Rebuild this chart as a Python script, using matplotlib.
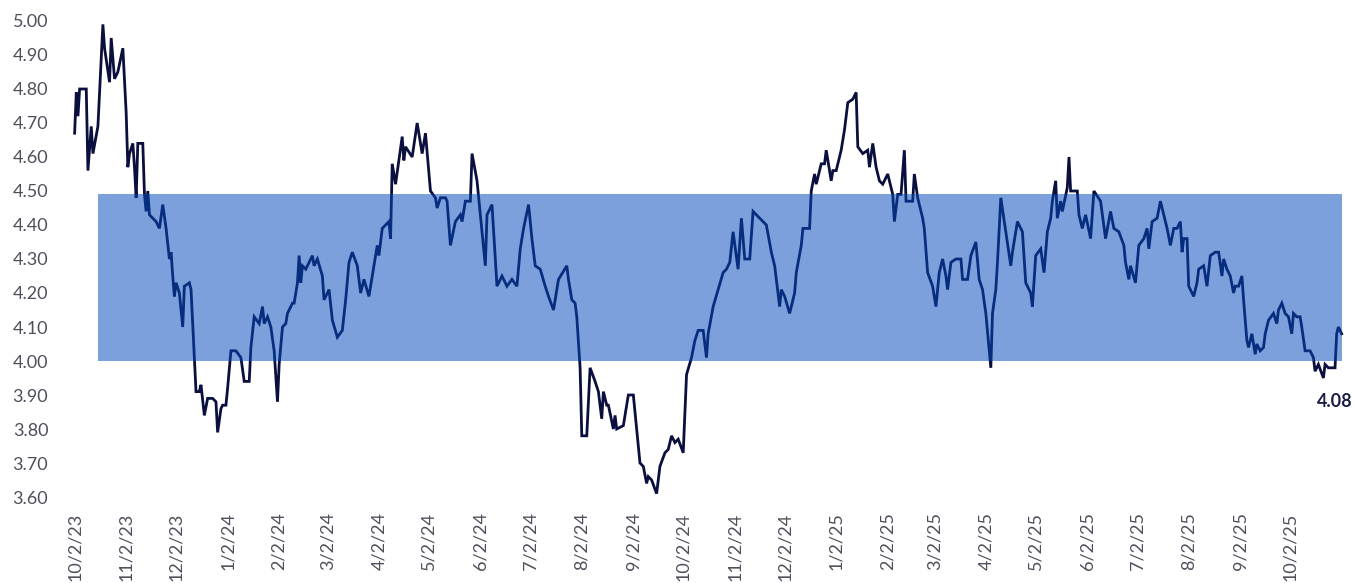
import numpy as np
import pandas as pd
import matplotlib
matplotlib.use("Agg")
import matplotlib.pyplot as plt

plt.rcParams['font.family'] = ['Lato', 'DejaVu Sans']

# calendar days after 10/2/23, and the yield
start_date = "2023-10-02"
days = [0, 1, 2, 3, 7, 8, 10, 11, 14, 17,
        18, 21, 22, 24, 26, 29, 31, 32, 33, 35,
        36, 37, 38, 41, 42, 43, 44, 45, 49, 51,
        53, 55, 57, 58, 59, 60, 61, 63, 65, 66,
        69, 70, 73, 75, 76, 78, 80, 83, 85, 86,
        88, 89, 91, 92, 94, 97, 100, 102, 105, 106,
        108, 111, 113, 114, 116, 118, 120, 122, 123, 125,
        127, 128, 131, 132, 134, 135, 136, 137, 139, 143,
        144, 146, 149, 150, 153, 155, 158, 161, 163, 165,
        167, 170, 172, 174, 177, 182, 183, 185, 189, 190,
        191, 193, 197, 198, 199, 203, 206, 209, 211, 214,
        217, 218, 220, 223, 224, 226, 229, 232, 233, 235,
        238, 239, 242, 247, 248, 251, 254, 257, 260, 263,
        266, 268, 270, 273, 275, 277, 280, 283, 285, 288,
        291, 296, 297, 299, 301, 302, 304, 305, 308, 310,
        313, 315, 317, 318, 320, 321, 324, 325, 326, 330,
        333, 336, 340, 342, 344, 345, 347, 350, 352, 355,
        357, 359, 361, 363, 366, 368, 371, 373, 375, 378,
        380, 381, 384, 387, 390, 392, 394, 396, 399, 401,
        403, 406, 408, 412, 416, 419, 421, 422, 424, 425,
        427, 430, 433, 434, 437, 438, 442, 443, 445, 446,
        449, 451, 452, 455, 456, 458, 461, 463, 465, 468,
        470, 471, 474, 477, 478, 480, 482, 484, 486, 489,
        492, 493, 495, 497, 499, 500, 504, 505, 507, 510,
        511, 513, 516, 517, 518, 520, 522, 524, 525, 527,
        530, 533, 534, 537, 539, 542, 544, 546, 548, 551,
        552, 554, 555, 557, 560, 563, 564, 567, 570, 572,
        575, 576, 578, 581, 583, 585, 587, 588, 590, 591,
        593, 594, 597, 598, 599, 603, 604, 606, 608, 611,
        613, 617, 620, 623, 625, 628, 631, 632, 634, 635,
        638, 640, 643, 645, 646, 648, 651, 653, 655, 657,
        659, 661, 663, 665, 666, 667, 669, 670, 673, 675,
        676, 679, 681, 683, 686, 688, 690, 691, 693, 695,
        697, 698, 700, 702, 703, 705, 706, 708, 710, 711,
        713, 715, 716, 718, 721, 723, 724, 726, 728, 730,
        732, 733, 735, 737, 738, 740, 743, 745, 746, 748,
        751, 752, 754, 758, 759, 760, 762]
yields = [4.67, 4.79, 4.72, 4.80, 4.80, 4.56, 4.69, 4.61, 4.69, 4.99,
          4.92, 4.82, 4.95, 4.83, 4.85, 4.92, 4.73, 4.57, 4.61, 4.64,
          4.57, 4.48, 4.64, 4.64, 4.49, 4.44, 4.50, 4.43, 4.41, 4.39,
          4.46, 4.39, 4.30, 4.32, 4.25, 4.19, 4.23, 4.20, 4.10, 4.22,
          4.23, 4.21, 3.91, 3.91, 3.93, 3.84, 3.89, 3.89, 3.88, 3.79,
          3.86, 3.87, 3.87, 3.92, 4.03, 4.03, 4.01, 3.94, 3.94, 4.04,
          4.13, 4.11, 4.16, 4.11, 4.13, 4.10, 4.03, 3.88, 3.99, 4.10,
          4.11, 4.14, 4.17, 4.17, 4.23, 4.31, 4.23, 4.28, 4.27, 4.31,
          4.28, 4.30, 4.25, 4.18, 4.21, 4.12, 4.07, 4.09, 4.18, 4.29,
          4.32, 4.28, 4.20, 4.24, 4.19, 4.34, 4.31, 4.39, 4.41, 4.36,
          4.58, 4.52, 4.66, 4.59, 4.63, 4.60, 4.70, 4.61, 4.67, 4.50,
          4.48, 4.45, 4.48, 4.48, 4.47, 4.34, 4.41, 4.43, 4.41, 4.47,
          4.47, 4.61, 4.53, 4.28, 4.43, 4.46, 4.22, 4.25, 4.22, 4.24,
          4.22, 4.33, 4.39, 4.46, 4.36, 4.28, 4.27, 4.22, 4.19, 4.15,
          4.24, 4.28, 4.24, 4.18, 4.17, 4.13, 3.98, 3.78, 3.78, 3.98,
          3.94, 3.91, 3.83, 3.91, 3.87, 3.87, 3.80, 3.84, 3.80, 3.81,
          3.90, 3.90, 3.70, 3.69, 3.64, 3.66, 3.65, 3.61, 3.69, 3.73,
          3.74, 3.78, 3.76, 3.77, 3.73, 3.96, 4.01, 4.06, 4.09, 4.09,
          4.01, 4.08, 4.16, 4.21, 4.26, 4.27, 4.29, 4.38, 4.27, 4.42,
          4.30, 4.30, 4.44, 4.42, 4.40, 4.32, 4.28, 4.24, 4.16, 4.21,
          4.19, 4.14, 4.20, 4.26, 4.34, 4.39, 4.39, 4.50, 4.55, 4.52,
          4.58, 4.58, 4.62, 4.53, 4.56, 4.56, 4.62, 4.68, 4.76, 4.77,
          4.79, 4.63, 4.61, 4.62, 4.57, 4.64, 4.57, 4.53, 4.52, 4.55,
          4.49, 4.41, 4.49, 4.49, 4.62, 4.47, 4.47, 4.55, 4.48, 4.42,
          4.39, 4.26, 4.22, 4.19, 4.16, 4.26, 4.30, 4.25, 4.21, 4.29,
          4.30, 4.30, 4.24, 4.24, 4.31, 4.35, 4.24, 4.21, 4.14, 3.98,
          4.14, 4.21, 4.29, 4.48, 4.38, 4.28, 4.32, 4.41, 4.38, 4.23,
          4.20, 4.16, 4.31, 4.33, 4.26, 4.38, 4.42, 4.47, 4.53, 4.42,
          4.47, 4.44, 4.51, 4.60, 4.50, 4.50, 4.43, 4.39, 4.43, 4.36,
          4.50, 4.47, 4.36, 4.44, 4.39, 4.38, 4.34, 4.29, 4.24, 4.28,
          4.23, 4.34, 4.36, 4.39, 4.33, 4.41, 4.42, 4.47, 4.43, 4.39,
          4.34, 4.39, 4.39, 4.41, 4.32, 4.36, 4.36, 4.22, 4.19, 4.23,
          4.27, 4.28, 4.22, 4.31, 4.32, 4.32, 4.25, 4.30, 4.27, 4.25,
          4.20, 4.22, 4.22, 4.25, 4.18, 4.06, 4.04, 4.08, 4.02, 4.05,
          4.03, 4.04, 4.08, 4.12, 4.14, 4.11, 4.15, 4.17, 4.14, 4.13,
          4.08, 4.14, 4.13, 4.13, 4.10, 4.03, 4.03, 4.01, 3.97, 3.99,
          3.95, 3.99, 3.98, 3.98, 4.08, 4.10, 4.08]

band_low, band_high = 4.00, 4.49
band_start_day = 14

tick_labels = ["10/2/23", "11/2/23", "12/2/23", "1/2/24", "2/2/24", "3/2/24",
               "4/2/24", "5/2/24", "6/2/24", "7/2/24", "8/2/24", "9/2/24",
               "10/2/24", "11/2/24", "12/2/24", "1/2/25", "2/2/25", "3/2/25",
               "4/2/25", "5/2/25", "6/2/25", "7/2/25", "8/2/25", "9/2/25",
               "10/2/25"]

t0 = pd.Timestamp(start_date)
dates = t0 + pd.to_timedelta(days, unit="D")
tick_dates = pd.to_datetime(tick_labels, format="%m/%d/%y")

fig = plt.figure(figsize=(13.55, 5.83), dpi=100)
ax = fig.add_axes([58 / 1355, 0.1475, 1287 / 1355, 0.8165])

ax.plot(dates, yields, color="#0a0f3e", lw=2.0, zorder=2, solid_joinstyle="miter")

# band sits over the line, so the line shows through lighter
band_x = [t0 + pd.Timedelta(days=band_start_day), dates[-1]]
ax.fill_between(band_x, band_low, band_high, color=(0.01, 0.29, 0.73),
                alpha=0.52, lw=0, zorder=3)

ax.annotate(f"{yields[-1]:.2f}", xy=(dates[-1], yields[-1]), xytext=(-18, -49),
            textcoords="offset points", ha="left", va="center",
            fontsize=13, fontweight="bold", color="#1a1d45")

ax.set_xlim(t0 - pd.Timedelta(days=10), t0 + pd.Timedelta(days=764))
ax.set_ylim(3.6, 5.0)
ax.set_yticks(np.arange(3.6, 5.001, 0.1))
ax.yaxis.set_major_formatter(plt.FormatStrFormatter("%.2f"))
ax.set_xticks(tick_dates)
ax.set_xticklabels(tick_labels, rotation=90)
ax.tick_params(axis="both", length=0, labelsize=13, labelcolor="#4f4f5c")
ax.tick_params(axis="y", pad=7)
ax.tick_params(axis="x", pad=11)
for s in ax.spines.values():
    s.set_visible(False)

fig.savefig("out.png", dpi=100)
